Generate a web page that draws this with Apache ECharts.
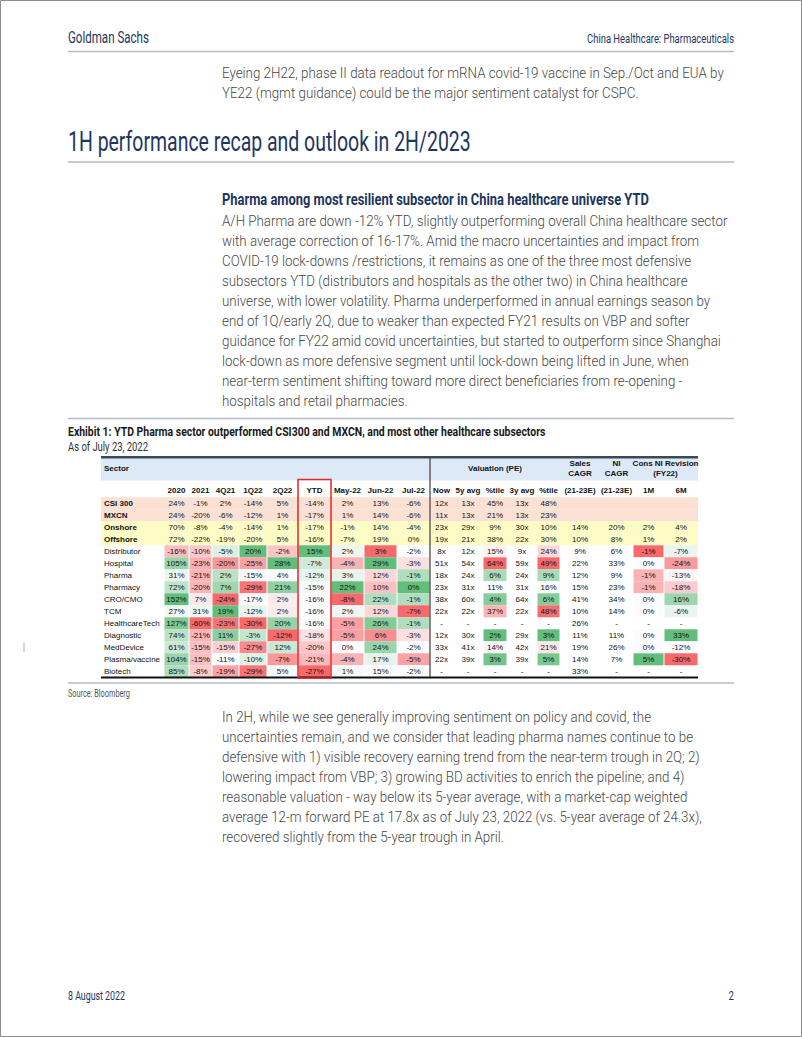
<!DOCTYPE html>
<html><head><meta charset="utf-8">
<script src="https://cdn.jsdelivr.net/npm/echarts@6/dist/echarts.min.js"></script>
<style>html,body{margin:0;padding:0;background:#fff;}#c{width:802px;height:1037px;}</style>
</head><body><div id="c"></div>
<script>
// ---------------- DATA ----------------
const sectors = ['CSI 300','MXCN','Onshore','Offshore','Distributor','Hospital','Pharma','Pharmacy','CRO/CMO','TCM','HealthcareTech','Diagnostic','MedDevice','Plasma/vaccine','Biotech'];
const benchmarkRows = ['CSI 300','MXCN'];
const aggregateRows = ['Onshore','Offshore'];
const columnLabels = ['2020','2021','4Q21','1Q22','2Q22','YTD','May-22','Jun-22','Jul-22','Now','5y avg','%tile','3y avg','%tile','(21-23E)','(21-23E)','1M','6M'];
const NA = null;   // shown as "-"
const BL = '';     // blank cell
const ret2020   = [24,24,70,72,-16,105,31,72,152,27,127,74,61,104,85];
const ret2021   = [-1,-20,-8,-22,-10,-23,-21,-20,7,31,-60,-21,-15,-15,-8];
const ret4Q21   = [2,-6,-4,-19,-5,-20,2,7,-24,19,-23,11,-15,-11,-19];
const ret1Q22   = [-14,-12,-14,-20,20,-25,-15,-29,-17,-12,-30,-3,-27,-10,-29];
const ret2Q22   = [5,1,1,5,-2,28,4,21,2,2,20,-12,12,-7,5];
const retYTD    = [-14,-17,-17,-16,15,-7,-12,-15,-16,-16,-16,-18,-20,-21,-27];
const retMay22  = [2,1,-1,-7,2,-4,3,22,-8,2,-5,-5,0,-4,1];
const retJun22  = [13,14,14,19,3,29,12,10,22,12,26,6,24,17,15];
const retJul22  = [-6,-6,-4,0,-2,-3,-1,0,-1,-7,-1,-3,-2,-5,-2];
const peNow     = [12,11,23,19,8,51,18,23,38,22,NA,12,33,22,NA];
const pe5yAvg   = [13,13,29,21,12,54,24,31,60,22,NA,30,41,39,NA];
const pe5yPct   = [45,21,9,38,15,64,6,11,4,37,NA,2,14,3,NA];
const pe3yAvg   = [13,13,30,22,9,59,24,31,64,22,NA,29,42,39,NA];
const pe3yPct   = [48,23,10,30,24,49,9,16,6,48,NA,3,21,5,NA];
const salesCagr = [BL,BL,14,10,9,22,12,15,41,10,26,11,19,14,33];
const niCagr    = [BL,BL,20,8,6,33,9,23,34,14,NA,11,26,7,NA];
const rev1M     = [BL,BL,2,1,-1.4,0,-0.7,-0.7,0,0,NA,0,0,5,NA];
const rev6M     = [BL,BL,4,2,-7,-24,-13,-18,16,-6,NA,33,-12,-30,NA];

const COLUMNS = [ret2020,ret2021,ret4Q21,ret1Q22,ret2Q22,retYTD,retMay22,retJun22,retJul22,
                 peNow,pe5yAvg,pe5yPct,pe3yAvg,pe3yPct,salesCagr,niCagr,rev1M,rev6M];
const MULTIPLE_COLS = [9,10,12]; // shown with "x"
// conditional-format groups (3-colour scale: min / median / max)
const HEAT_GROUPS = [
  {cols:[0,1]},{cols:[2]},{cols:[3]},{cols:[4]},{cols:[5]},{cols:[6]},{cols:[7]},{cols:[8]},
  {cols:[11],reverse:true},{cols:[13],reverse:true},{cols:[16]},{cols:[17]}
];

const para1 = [
  'Eyeing 2H22, phase II data readout for mRNA covid-19 vaccine in Sep./Oct and EUA by',
  'YE22 (mgmt guidance) could be the major sentiment catalyst for CSPC.'
];
const para2 = [
  'A/H Pharma are down -12% YTD, slightly outperforming overall China healthcare sector',
  'with average correction of 16-17%. Amid the macro uncertainties and impact from',
  'COVID-19 lock-downs /restrictions, it remains as one of the three most defensive',
  'subsectors YTD (distributors and hospitals as the other two) in China healthcare',
  'universe, with lower volatility. Pharma underperformed in annual earnings season by',
  'end of 1Q/early 2Q, due to weaker than expected FY21 results on VBP and softer',
  'guidance for FY22 amid covid uncertainties, but started to outperform since Shanghai',
  'lock-down as more defensive segment until lock-down being lifted in June, when',
  'near-term sentiment shifting toward more direct beneficiaries from re-opening -',
  'hospitals and retail pharmacies.'
];
const para3 = [
  'In 2H, while we see generally improving sentiment on policy and covid, the',
  'uncertainties remain, and we consider that leading pharma names continue to be',
  'defensive with 1) visible recovery earning trend from the near-term trough in 2Q; 2)',
  'lowering impact from VBP; 3) growing BD activities to enrich the pipeline; and 4)',
  'reasonable valuation - way below its 5-year average, with a market-cap weighted',
  'average 12-m forward PE at 17.8x as of July 23, 2022 (vs. 5-year average of 24.3x),',
  'recovered slightly from the 5-year trough in April.'
];

// ---------------- LAYOUT / STYLE ----------------
const TABLE_LEFT = 101, TABLE_W = 597, ROW_TOP = 497.3, ROW_H = 12;
const EDGES = [0,63,88,111,138,166,197,230,263,296,329,352,382,406,436,459,499,532,563,597];
const NAVY = '#1d3660';
const BODY = '#474747';
const SANS = "Roboto, 'Liberation Sans', Arial, sans-serif";
const TFONT = "'Liberation Sans', Arial, Helvetica, sans-serif";
const RED = [248,105,107], WHITE = [252,252,255], GREEN = [99,190,123];

const mctx = document.createElement('canvas').getContext('2d');
function measure(t, font){ mctx.font = font; return mctx.measureText(t).width; }

const G = [];
function addText(text, x, y, o){
  let sx = o.scale || 1;
  if (o.width) sx = o.width / measure(text, o.font);
  G.push({type:'text', x:x, y:y, scaleX:sx, z:o.z||20, silent:true,
    style:{text:text, font:o.font, fill:o.fill||BODY, align:o.align||'left', verticalAlign:'middle'}});
}
function addLine(x1,y1,x2,y2,stroke,lw,z){
  G.push({type:'line', z:z||20, silent:true, shape:{x1,y1,x2,y2}, style:{stroke:stroke, lineWidth:lw}});
}
function addRect(x,y,w,h,style,z){
  G.push({type:'rect', z:z||1, silent:true, shape:{x,y,width:w,height:h}, style:style});
}

// page frame
addRect(0.5,0.5,801,1036,{fill:'none',stroke:'#8c8c8c',lineWidth:1},30);
// running header
addText('Goldman Sachs', 68, 37, {font:'400 16px '+SANS, width:81, fill:NAVY});
addText('China Healthcare: Pharmaceuticals', 734, 38, {font:'400 13px '+SANS, width:147, fill:NAVY, align:'right'});
addLine(68,51.5,734,51.5,'#b4bbc4',1.5);
// body paragraph 1
const BODY_FONT = '300 15px ' + SANS;
const BODY_SCALE = 502 / measure(para1[0], BODY_FONT);
para1.forEach((t,i)=>addText(t, 222, 73 + 20*i, {font:BODY_FONT, scale:BODY_SCALE}));
// section heading
addText('1H performance recap and outlook in 2H/2023', 68, 141.5, {font:'400 27px '+SANS, width:403, fill:NAVY});
addLine(68,162,734,162,'#b4bbc4',1.5);
addText('Pharma among most resilient subsector in China healthcare universe YTD', 222, 200.5, {font:'700 16px '+SANS, width:427, fill:NAVY});
para2.forEach((t,i)=>addText(t, 222, 221 + 20*i, {font:BODY_FONT, scale:BODY_SCALE}));
addLine(68,418.5,734,418.5,'#b4bbc4',1.5);
// exhibit title
addText('Exhibit 1: YTD Pharma sector outperformed CSI300 and MXCN, and most other healthcare subsectors', 68, 432, {font:'700 13.5px '+SANS, width:478, fill:'#1a1a1a'});
addText('As of July 23, 2022', 68, 446, {font:'400 13px '+SANS, width:80, fill:'#333'});
// table chrome
const TR = TABLE_LEFT + TABLE_W;
addRect(TABLE_LEFT, 458, TABLE_W, 22.5, {fill:'#dde9f6'}, 1);
addLine(TABLE_LEFT,457.3,TR,457.3,'#3b4855',2.5,25);
addLine(TABLE_LEFT,677.5,TR,677.5,'#111',2,25);
addLine(TABLE_LEFT+EDGES[10],457,TABLE_LEFT+EDGES[10],677,'#4a4a4a',1.3,25);
addRect(TABLE_LEFT+EDGES[6], 479.5, EDGES[7]-EDGES[6], 198.5, {fill:'none',stroke:'#e3262a',lineWidth:1.5},26);
// table headers
const HB = '700 8px ' + TFONT;
const colCenter = c => TABLE_LEFT + (EDGES[c+1] + EDGES[c+2]) / 2;
addText('Sector', TABLE_LEFT+3, 468, {font:HB, fill:'#111'});
addText('Valuation (PE)', TABLE_LEFT + (EDGES[10]+EDGES[15])/2, 468, {font:HB, fill:'#111', align:'center'});
addText('Sales', colCenter(14), 463.5, {font:HB, fill:'#111', align:'center'});
addText('CAGR', colCenter(14), 473.5, {font:HB, fill:'#111', align:'center'});
addText('NI', colCenter(15), 463.5, {font:HB, fill:'#111', align:'center'});
addText('CAGR', colCenter(15), 473.5, {font:HB, fill:'#111', align:'center'});
addText('Cons NI Revision', TABLE_LEFT + (EDGES[17]+EDGES[19])/2, 463.5, {font:HB, fill:'#111', align:'center'});
addText('(FY22)', TABLE_LEFT + (EDGES[17]+EDGES[19])/2, 473.5, {font:HB, fill:'#111', align:'center'});
columnLabels.forEach((l,c)=>addText(l, colCenter(c), 490, {font:HB, fill:'#111', align:'center'}));
// source + lines
addLine(68,683,734,683,'#b4bbc4',1.5);
addText('Source: Bloomberg', 68, 693, {font:'400 11px '+SANS, width:62, fill:'#555'});
para3.forEach((t,i)=>addText(t, 222, 717 + 20*i, {font:BODY_FONT, scale:BODY_SCALE}));
// footer
addText('8 August 2022', 68, 996, {font:'400 12px '+SANS, width:57, fill:NAVY});
addText('2', 734, 996, {font:'400 12px '+SANS, fill:NAVY, align:'right', scale:0.8});
addLine(24,643,24,652,'#aaaaaa',1);

// ---------------- HEAT SCALES ----------------
const isSpecial = r => benchmarkRows.includes(sectors[r]) || aggregateRows.includes(sectors[r]);
const heatRows = sectors.map((s,i)=>i).filter(i=>!isSpecial(i));
const colScale = {};
HEAT_GROUPS.forEach(g=>{
  const vals = [];
  g.cols.forEach(c=>heatRows.forEach(r=>{ const v = COLUMNS[c][r]; if (typeof v === 'number') vals.push(v); }));
  vals.sort((a,b)=>a-b);
  const pos = (vals.length-1)*0.5, lo = Math.floor(pos), hi = Math.ceil(pos);
  const mid = vals[lo] + (vals[hi]-vals[lo])*(pos-lo);
  g.cols.forEach(c=>colScale[c] = {min:vals[0], max:vals[vals.length-1], mid:mid, reverse:!!g.reverse});
});
function mix(a,b,t){ t=Math.max(0,Math.min(1,t)); return 'rgb('+a.map((v,i)=>Math.round(v+(b[i]-v)*t)).join(',')+')'; }
function heatColor(c, r){
  const s = colScale[c]; const v = COLUMNS[c][r];
  if (!s || isSpecial(r) || typeof v !== 'number') return null;
  const hiC = s.reverse ? RED : GREEN, loC = s.reverse ? GREEN : RED;
  if (v >= s.mid) return mix(WHITE, hiC, s.max===s.mid ? 0 : (v-s.mid)/(s.max-s.mid));
  return mix(WHITE, loC, (s.mid-v)/(s.mid-s.min));
}
function fmt(c, r){
  const v = COLUMNS[c][r];
  if (v === null) return '-';
  if (v === '') return '';
  return Math.round(v) + (MULTIPLE_COLS.includes(c) ? 'x' : '%');
}

// ---------------- SERIES DATA ----------------
const rowBgData = [];
sectors.forEach((s,r)=>{ if (isSpecial(r)) rowBgData.push([0, r, benchmarkRows.includes(s) ? 1 : 2]); });
const cellData = [];
sectors.forEach((s,r)=>{
  cellData.push([EDGES[0], r, -1]);
  COLUMNS.forEach((col,c)=>cellData.push([EDGES[c+1], r, c]));
});

const CF = '400 8px ' + TFONT;
const chart = echarts.init(document.getElementById('c'), null, {renderer:'svg', width:802, height:1037});
chart.setOption({
  animation:false,
  backgroundColor:'#ffffff',
  grid:{left:TABLE_LEFT, top:ROW_TOP, width:TABLE_W, height:ROW_H*sectors.length},
  xAxis:{type:'value', min:0, max:TABLE_W, show:false},
  yAxis:{type:'category', data:sectors, inverse:true, show:false},
  graphic:{elements:G},
  series:[
    {type:'custom', silent:true, z:1, data:rowBgData,
     renderItem:(p, api)=>{
       const r = api.value(1);
       const a = api.coord([0, r]), b = api.coord([TABLE_W, r]);
       const h = api.size([0,1])[1];
       return {type:'rect', shape:{x:a[0], y:a[1]-h/2, width:b[0]-a[0], height:h},
               style:{fill: api.value(2)===1 ? '#fbe1d3' : '#fefbc4'}};
     }},
    {type:'custom', silent:true, z:3, data:cellData,
     renderItem:(p, api)=>{
       const c = api.value(2), r = api.value(1);
       const a = api.coord([EDGES[c+1], r]), b = api.coord([EDGES[c+2], r]);
       const h = api.size([0,1])[1];
       const children = [];
       if (c < 0) {
         const bold = isSpecial(r);
         children.push({type:'text', style:{text:sectors[r], x:a[0]+3, y:a[1]+0.5,
           font:(bold?'700 ':'400 ')+'8px '+TFONT, fill:'#111', align:'left', verticalAlign:'middle'}});
       } else {
         const col = heatColor(c, r);
         if (col) children.push({type:'rect', shape:{x:a[0]+0.5, y:a[1]-h/2, width:b[0]-a[0]-1, height:h}, style:{fill:col}});
         children.push({type:'text', style:{text:fmt(c,r), x:(a[0]+b[0])/2, y:a[1]+0.5,
           font:CF, fill:'#111', align:'center', verticalAlign:'middle'}});
       }
       return {type:'group', children:children};
     }}
  ]
});
</script>
</body></html>
